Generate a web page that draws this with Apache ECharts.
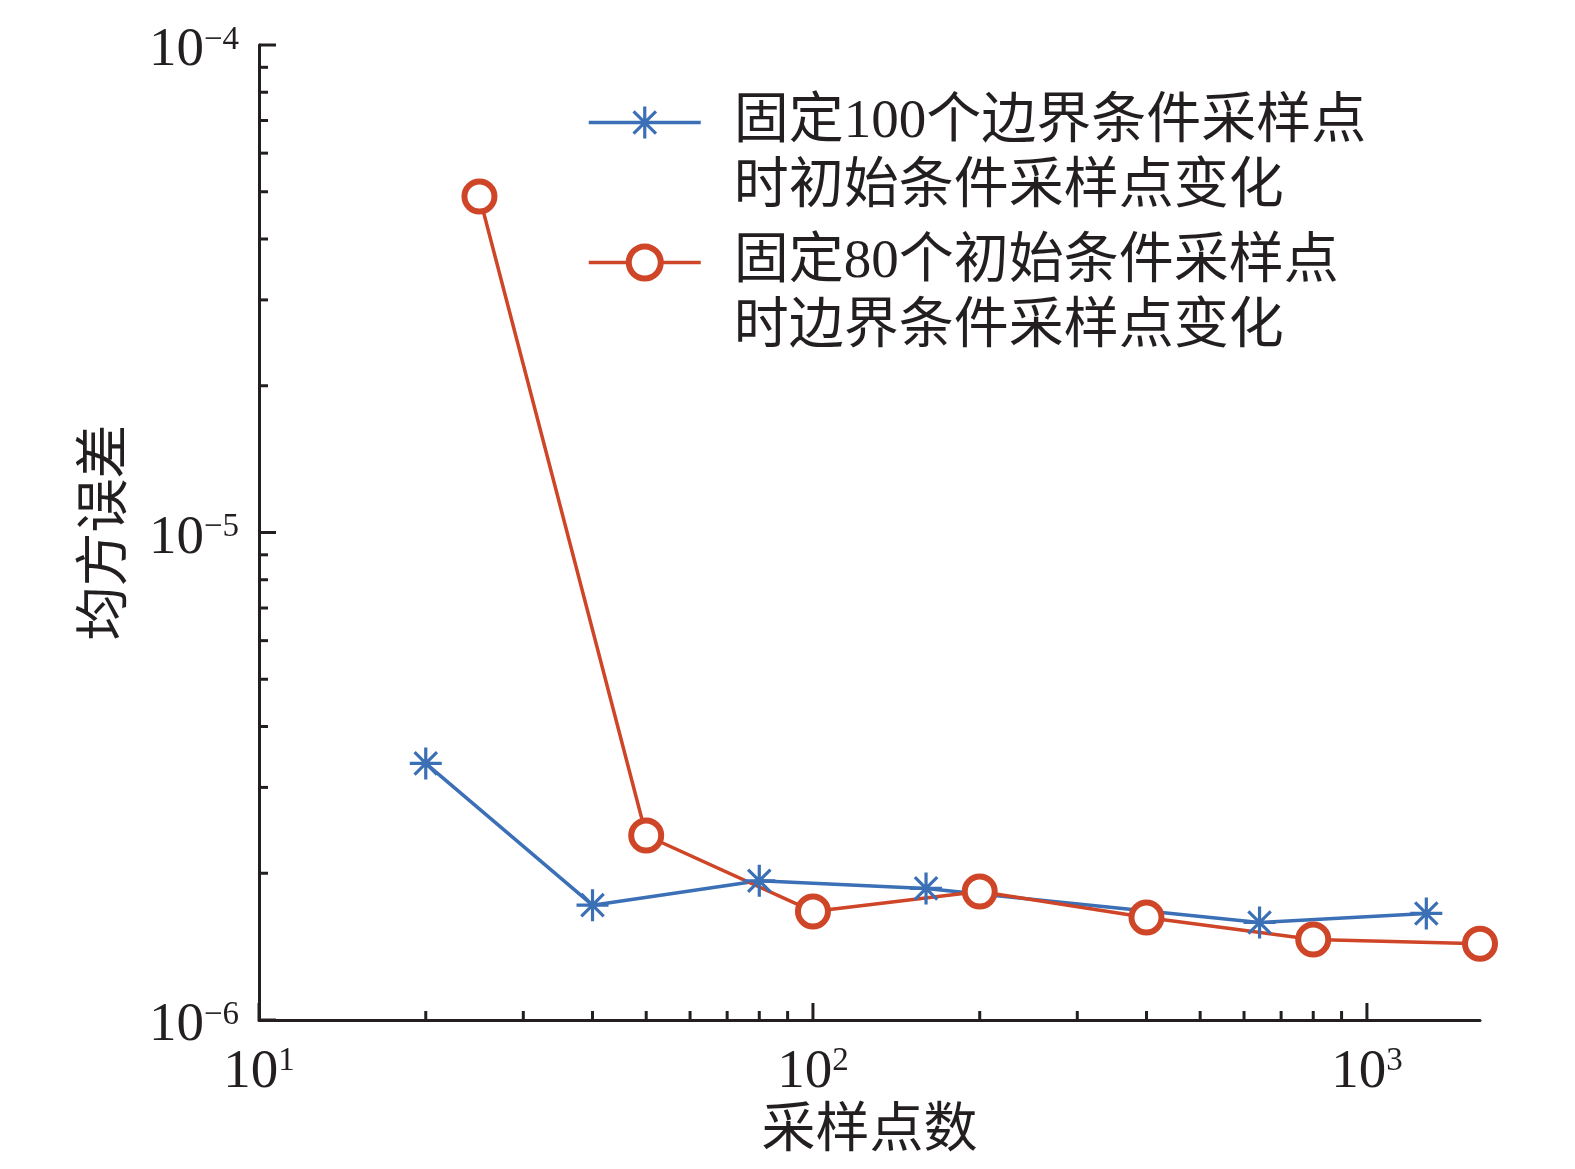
<!DOCTYPE html>
<html>
<head>
<meta charset="utf-8" />
<title>均方误差</title>
<script src="https://cdn.jsdelivr.net/npm/echarts@6/dist/echarts.min.js"></script>
<style>
    html, body { margin: 0; padding: 0; background: #fff; }
    #main { width: 1575px; height: 1169px; }
</style>
</head>
<body>
<div id="main"></div>
<script type="text/javascript">
    // data
    var nameBlue = '固定100个边界条件采样点\n时初始条件采样点变化';
    var nameRed = '固定80个初始条件采样点\n时边界条件采样点变化';
    var xBlue = [20, 40, 80, 160, 640, 1280];
    var yBlue = [3.36e-6, 1.72e-6, 1.93e-6, 1.862e-6, 1.585e-6, 1.654e-6];
    var xRed = [25, 50, 100, 200, 400, 800, 1600];
    var yRed = [4.89e-5, 2.39e-6, 1.67e-6, 1.835e-6, 1.623e-6, 1.462e-6, 1.434e-6];
    // tick positions
    var xMajorTicks = [10, 100, 1000];
    var xMinorTicks = [20, 30, 40, 50, 60, 70, 80, 90, 200, 300, 400, 500, 600, 700, 800, 900];
    var yMajorTicks = [1e-6, 1e-5, 1e-4];
    var yMinorTicks = [2e-6, 3e-6, 4e-6, 5e-6, 6e-6, 7e-6, 8e-6, 9e-6,
                       2e-5, 3e-5, 4e-5, 5e-5, 6e-5, 7e-5, 8e-5, 9e-5];

    var BLUE = '#3b6fb6';
    var RED = '#cf4527';
    var INK = '#231f20';
    var SERIF = "'Liberation Serif', 'Noto Sans CJK SC', serif";

    var asterisk = 'path://M0 45 L100 45 L100 55 L0 55 Z M45 0 L55 0 L55 100 L45 100 Z ' +
        'M11.5 18.5 L18.5 11.5 L88.5 81.5 L81.5 88.5 Z M81.5 11.5 L88.5 18.5 L18.5 88.5 L11.5 81.5 Z';

    function zip(xs, ys) {
        var out = [];
        for (var i = 0; i < xs.length; i++) out.push([xs[i], ys[i]]);
        return out;
    }

    function powLabel(value) {
        var e = Math.round(Math.log(value) / Math.LN10);
        if (Math.abs(value / Math.pow(10, e) - 1) > 1e-6) return '';
        var s = e < 0 ? '\u2212' + (-e) : '' + e;
        return '{b|10}{s|' + s + '}';
    }

    var labelRich = {
        b: { fontSize: 55, fontFamily: SERIF, color: INK },
        s: { fontSize: 33, fontFamily: SERIF, color: INK, verticalAlign: 'top' }
    };

    var chart = echarts.init(document.getElementById('main'));
    var option = {
        animation: false,
        backgroundColor: '#fff',
        grid: { left: 259, right: 95, top: 45, bottom: 149, outerBoundsMode: 'none', containLabel: false },
        legend: {
            left: 582,
            top: 20,
            orient: 'vertical',
            itemWidth: 112,
            itemHeight: 40,
            itemGap: -55,
            data: [
                { name: nameBlue, lineStyle: { width: 3.5 } },
                { name: nameRed, lineStyle: { width: 3.5 }, itemStyle: { borderWidth: 6 } }
            ],
            formatter: function (name) { return '\n' + name; },
            textStyle: {
                fontSize: 55,
                lineHeight: 65,
                fontFamily: SERIF,
                color: INK,
                padding: [0, 0, 0, 28]
            }
        },
        xAxis: {
            type: 'log',
            logBase: 10,
            min: 10,
            max: 1600,
            name: '采样点数',
            nameLocation: 'middle',
            nameGap: 86,
            nameMoveOverlap: false,
            nameTextStyle: { fontSize: 54, fontFamily: SERIF, color: INK },
            axisLine: { show: true, lineStyle: { color: INK, width: 3 } },
            axisTick: { show: false },
            splitLine: { show: false },
            axisLabel: { margin: 25, formatter: powLabel, rich: labelRich }
        },
        yAxis: {
            type: 'log',
            logBase: 10,
            min: 1e-6,
            max: 1e-4,
            name: '均方误差',
            nameLocation: 'middle',
            nameRotate: 90,
            nameGap: 124,
            nameMoveOverlap: false,
            nameTextStyle: { fontSize: 54, fontFamily: SERIF, color: INK },
            axisLine: { show: true, lineStyle: { color: INK, width: 3 } },
            axisTick: { show: false },
            splitLine: { show: false },
            axisLabel: { margin: 20, padding: [12, 0, 0, 0], formatter: powLabel, rich: labelRich }
        },
        series: [
            {
                name: nameBlue,
                type: 'line',
                data: zip(xBlue, yBlue),
                symbol: asterisk,
                symbolSize: 32,
                itemStyle: { color: BLUE },
                lineStyle: { color: BLUE, width: 3.5 }
            },
            {
                name: nameRed,
                type: 'line',
                data: zip(xRed, yRed),
                symbol: 'circle',
                symbolSize: 30,
                itemStyle: { color: '#fff', borderColor: RED, borderWidth: 6 },
                lineStyle: { color: RED, width: 3.5 }
            }
        ]
    };
    chart.setOption(option);

    // inward-pointing major/minor ticks drawn on the axis lines
    function tickLines() {
        var els = [];
        var y0 = chart.convertToPixel({ yAxisIndex: 0 }, 1e-6);
        var x0 = chart.convertToPixel({ xAxisIndex: 0 }, 10);
        function addX(v, len) {
            var px = chart.convertToPixel({ xAxisIndex: 0 }, v);
            els.push({ type: 'line', shape: { x1: px, y1: y0, x2: px, y2: y0 - len },
                style: { stroke: INK, lineWidth: 3 }, silent: true });
        }
        function addY(v, len) {
            var py = chart.convertToPixel({ yAxisIndex: 0 }, v);
            els.push({ type: 'line', shape: { x1: x0, y1: py, x2: x0 + len, y2: py },
                style: { stroke: INK, lineWidth: 3 }, silent: true });
        }
        xMajorTicks.forEach(function (v) { addX(v, 17); });
        xMinorTicks.forEach(function (v) { addX(v, 9); });
        yMajorTicks.forEach(function (v) { addY(v, 17); });
        yMinorTicks.forEach(function (v) { addY(v, 9); });
        return els;
    }
    chart.setOption({ graphic: tickLines() });
</script>
</body>
</html>
